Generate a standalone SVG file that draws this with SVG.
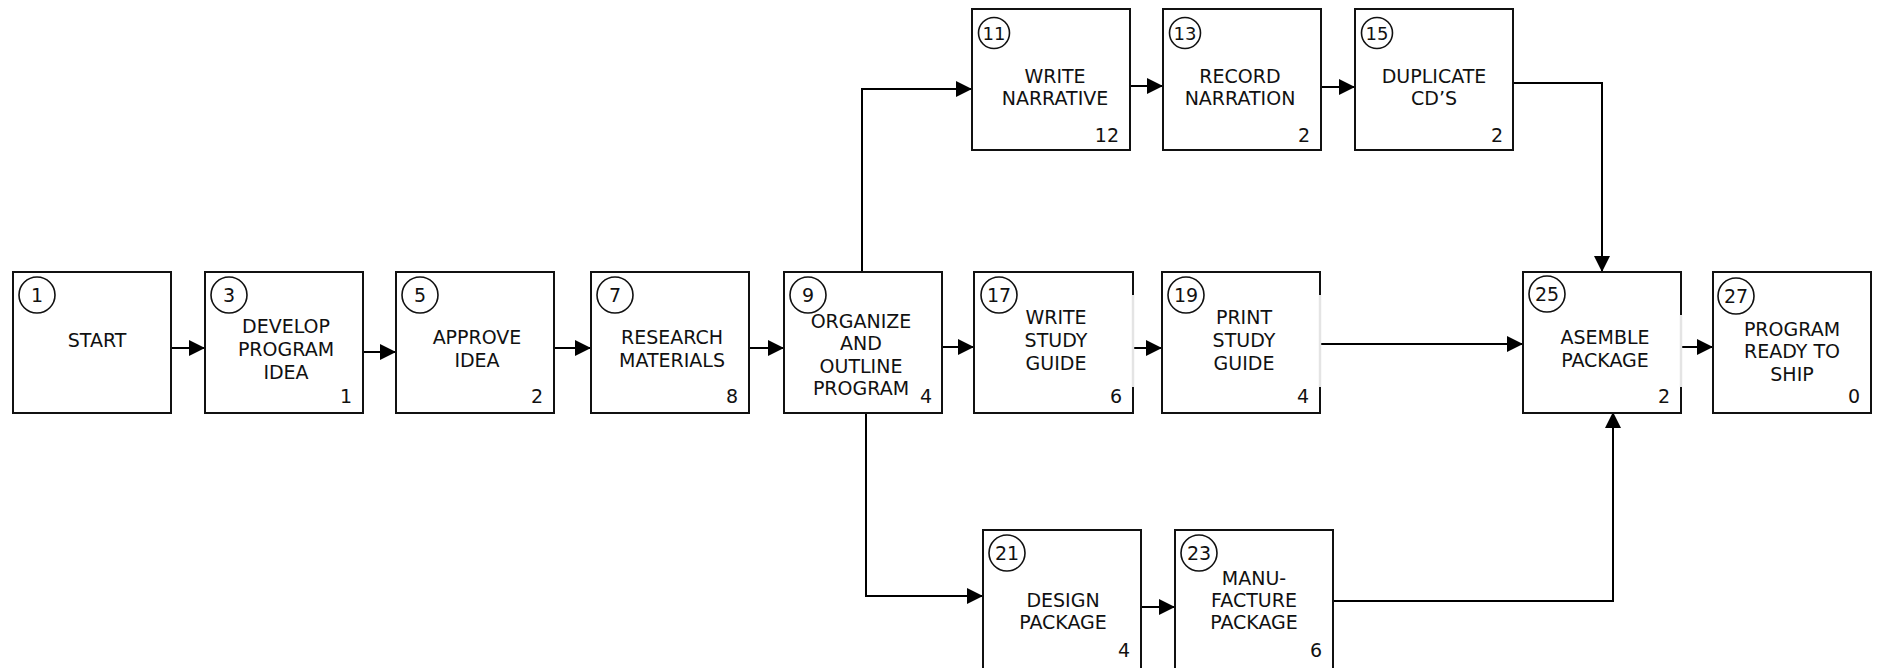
<svg xmlns="http://www.w3.org/2000/svg" width="1877" height="668" viewBox="0 0 1877 668">
<defs>
<marker id="ah" markerUnits="userSpaceOnUse" markerWidth="16" markerHeight="16" refX="16" refY="8" orient="auto"><path d="M0,0 L16,8 L0,16 z" fill="#000"/></marker>
<style>
.box{fill:#fff;stroke:#111;stroke-width:2}
.c{fill:none;stroke:#111;stroke-width:1.6}
.t{font-family:"DejaVu Sans",Verdana,sans-serif;font-size:19px;fill:#111;text-anchor:middle}
.n{font-family:"DejaVu Sans",Verdana,sans-serif;font-size:19px;fill:#111;text-anchor:middle}
.s{font-family:"DejaVu Sans",Verdana,sans-serif;font-size:18px;fill:#111;text-anchor:middle}
.d{font-family:"DejaVu Sans",Verdana,sans-serif;font-size:19px;fill:#111;text-anchor:end}
.con{fill:none;stroke:#000;stroke-width:2;marker-end:url(#ah)}
.gap{stroke:#e4e4e4;stroke-width:2.5}
</style>
</defs>
<g id="connectors">
<path class="con" d="M171,348 H205"/>
<path class="con" d="M363,352 H396"/>
<path class="con" d="M554,348 H591"/>
<path class="con" d="M749,348 H784"/>
<path class="con" d="M942,347 H974"/>
<path class="con" d="M1133,348 H1162"/>
<path class="con" d="M1320,344 H1523"/>
<path class="con" d="M1681,347 H1713"/>
<path class="con" d="M862,272 V89 H972"/>
<path class="con" d="M1130,86 H1163"/>
<path class="con" d="M1321,87 H1355"/>
<path class="con" d="M1513,83 H1602 V272"/>
<path class="con" d="M866,412 V596 H983"/>
<path class="con" d="M1141,607 H1175"/>
<path class="con" d="M1333,601 H1613 V412"/>
</g>
<g id="n1"><rect class="box" x="13" y="272" width="158" height="141"/><circle class="c" cx="37" cy="295" r="18"/><text class="n" x="37" y="302">1</text><text class="t" x="97" y="347">START</text></g>
<g id="n3"><rect class="box" x="205" y="272" width="158" height="141"/><circle class="c" cx="229" cy="295" r="18"/><text class="n" x="229" y="302">3</text><text class="t" x="286" y="333">DEVELOP</text><text class="t" x="286" y="356">PROGRAM</text><text class="t" x="286" y="379">IDEA</text><text class="d" x="352" y="403">1</text></g>
<g id="n5"><rect class="box" x="396" y="272" width="158" height="141"/><circle class="c" cx="420" cy="295" r="18"/><text class="n" x="420" y="302">5</text><text class="t" x="477" y="344">APPROVE</text><text class="t" x="477" y="367">IDEA</text><text class="d" x="543" y="403">2</text></g>
<g id="n7"><rect class="box" x="591" y="272" width="158" height="141"/><circle class="c" cx="615" cy="295" r="18"/><text class="n" x="615" y="302">7</text><text class="t" x="672" y="344">RESEARCH</text><text class="t" x="672" y="367">MATERIALS</text><text class="d" x="738" y="403">8</text></g>
<g id="n9"><rect class="box" x="784" y="272" width="158" height="141"/><circle class="c" cx="808" cy="295" r="18"/><text class="n" x="808" y="302">9</text><text class="t" x="861" y="328">ORGANIZE</text><text class="t" x="861" y="350">AND</text><text class="t" x="861" y="373">OUTLINE</text><text class="t" x="861" y="395">PROGRAM</text><text class="d" x="932" y="403">4</text></g>
<g id="n17"><rect class="box" x="974" y="272" width="159" height="141"/><line class="gap" x1="1133" y1="295" x2="1133" y2="387"/><circle class="c" cx="999" cy="295" r="18"/><text class="n" x="999" y="302">17</text><text class="t" x="1056" y="324">WRITE</text><text class="t" x="1056" y="347">STUDY</text><text class="t" x="1056" y="370">GUIDE</text><text class="d" x="1122" y="403">6</text></g>
<g id="n19"><rect class="box" x="1162" y="272" width="158" height="141"/><line class="gap" x1="1320" y1="295" x2="1320" y2="387"/><circle class="c" cx="1186" cy="295" r="18"/><text class="n" x="1186" y="302">19</text><text class="t" x="1244" y="324">PRINT</text><text class="t" x="1244" y="347">STUDY</text><text class="t" x="1244" y="370">GUIDE</text><text class="d" x="1309" y="403">4</text></g>
<g id="n25"><rect class="box" x="1523" y="272" width="158" height="141"/><line class="gap" x1="1681" y1="315" x2="1681" y2="387"/><circle class="c" cx="1547" cy="294" r="18"/><text class="n" x="1547" y="301">25</text><text class="t" x="1605" y="344">ASEMBLE</text><text class="t" x="1605" y="367">PACKAGE</text><text class="d" x="1670" y="403">2</text></g>
<g id="n27"><rect class="box" x="1713" y="272" width="158" height="141"/><circle class="c" cx="1736" cy="296" r="18"/><text class="n" x="1736" y="303">27</text><text class="t" x="1792" y="336">PROGRAM</text><text class="t" x="1792" y="358">READY TO</text><text class="t" x="1792" y="381">SHIP</text><text class="d" x="1860" y="403">0</text></g>
<g id="n11"><rect class="box" x="972" y="9" width="158" height="141"/><circle class="c" cx="994" cy="33" r="15.5"/><text class="s" x="994" y="39.5">11</text><text class="t" x="1055" y="83">WRITE</text><text class="t" x="1055" y="105">NARRATIVE</text><text class="d" x="1119" y="142">12</text></g>
<g id="n13"><rect class="box" x="1163" y="9" width="158" height="141"/><circle class="c" cx="1185" cy="33" r="15.5"/><text class="s" x="1185" y="39.5">13</text><text class="t" x="1240" y="83">RECORD</text><text class="t" x="1240" y="105">NARRATION</text><text class="d" x="1310" y="142">2</text></g>
<g id="n15"><rect class="box" x="1355" y="9" width="158" height="141"/><circle class="c" cx="1377" cy="33" r="15.5"/><text class="s" x="1377" y="39.5">15</text><text class="t" x="1434" y="83">DUPLICATE</text><text class="t" x="1434" y="105">CD’S</text><text class="d" x="1503" y="142">2</text></g>
<g id="n21"><rect class="box" x="983" y="530" width="158" height="141"/><circle class="c" cx="1007" cy="553" r="18"/><text class="n" x="1007" y="560">21</text><text class="t" x="1063" y="607">DESIGN</text><text class="t" x="1063" y="629">PACKAGE</text><text class="d" x="1130" y="657">4</text></g>
<g id="n23"><rect class="box" x="1175" y="530" width="158" height="141"/><circle class="c" cx="1199" cy="553" r="18"/><text class="n" x="1199" y="560">23</text><text class="t" x="1254" y="585">MANU-</text><text class="t" x="1254" y="607">FACTURE</text><text class="t" x="1254" y="629">PACKAGE</text><text class="d" x="1322" y="657">6</text></g>
</svg>
